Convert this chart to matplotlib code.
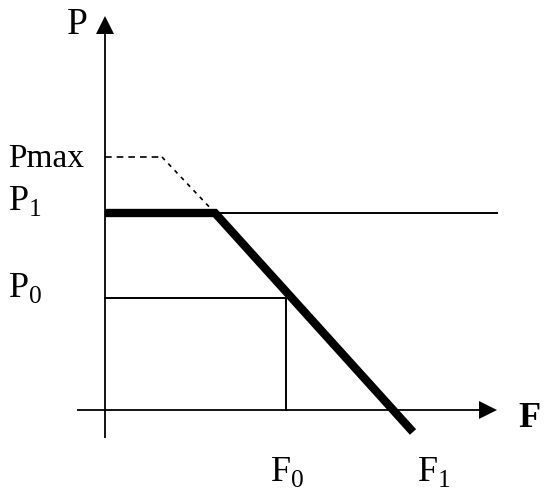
import numpy as np
import matplotlib
matplotlib.use('Agg')
import matplotlib.pyplot as plt

plt.rcParams['font.family'] = 'Liberation Serif'
plt.rcParams['mathtext.fontset'] = 'custom'
plt.rcParams['mathtext.rm'] = 'Liberation Serif'

# price / quantity levels (arbitrary units)
P_max = 25.3
P_1 = 19.7
P_0 = 11.2
F_knee = 11.0        # where the P1 cap meets the demand line
F_dash_knee = 5.7    # where the Pmax cap starts to fall
F_0 = 18.1
F_end = 30.8         # bottom end of the thick line
slope = 1.106        # dP/dF of the falling line

# axis extents
F_axis = [-2.8, 39.2]
P_axis = [-2.8, 39.2]

fig = plt.figure(figsize=(5.5, 4.94), dpi=100)
ax = fig.add_axes([0, 0, 1, 1])
ax.set_xlim(-10.5, 44.5)
ax.set_ylim(-8.4, 41.0)
ax.axis('off')

# axes with arrows
ax.arrow(F_axis[0], 0, F_axis[1] - F_axis[0], 0, width=0.18, head_width=1.8,
         head_length=1.8, length_includes_head=True, color='black', lw=0)
ax.arrow(0, P_axis[0], 0, P_axis[1] - P_axis[0] + 0.2, width=0.18, head_width=1.8,
         head_length=1.8, length_includes_head=True, color='black', lw=0)

# thin P1 line across
ax.plot([F_knee, F_axis[1]], [P_1, P_1], color='black', lw=1.4)

# Pmax dashed cap
ax.plot([0, F_dash_knee], [P_max, P_max], color='black', lw=1.2, ls=(0, (4, 3)))
ax.plot([F_dash_knee, F_knee], [P_max, P_1], color='black', lw=1.2, ls=(0, (2.5, 3)))

# P0 / F0 box
ax.plot([0, F_0, F_0], [P_0, P_0, 0], color='black', lw=1.4)

# thick kinked line
F_line = np.array([0, F_knee, F_end])
P_line = np.array([P_1, P_1, P_1 - slope * (F_end - F_knee)])
ax.plot(F_line, P_line, color='black', lw=6, solid_capstyle='butt',
        solid_joinstyle='miter')

F_1 = F_knee + P_1 / slope

# labels
ax.text(-3.8, 37.6, 'P', fontsize=27, ha='left', va='baseline')
ax.text(-9.7, P_max - 1.0, 'Pmax', fontsize=24, ha='left', va='baseline')
ax.text(-9.7, P_1 + 0.3, r'$\mathrm{P}_{1}$', fontsize=26, ha='left', va='baseline')
ax.text(-9.7, P_0 + 0.1, r'$\mathrm{P}_{0}$', fontsize=26, ha='left', va='baseline')
ax.text(41.3, -1.7, 'F', fontsize=26, fontweight='bold', ha='left', va='baseline')
ax.text(F_0 - 1.6, -7.1, r'$\mathrm{F}_{0}$', fontsize=26, ha='left', va='baseline')
ax.text(F_1 + 2.4, -7.1, r'$\mathrm{F}_{1}$', fontsize=26, ha='left', va='baseline')

plt.savefig('out.png', dpi=100)
